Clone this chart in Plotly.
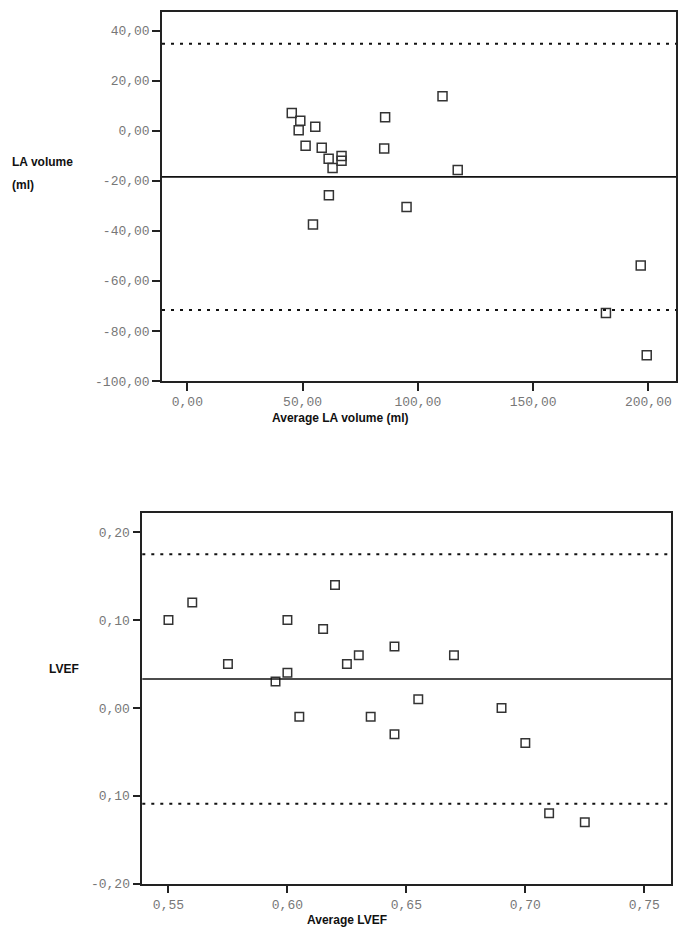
import plotly.graph_objects as go

# ---------------- data: LA volume (top panel) ----------------
la_avg = [45.3, 49.0, 48.3, 55.5, 51.3, 58.3, 61.3, 66.9, 66.9, 63.0,
          85.8, 85.4, 110.7, 117.3, 61.4, 95.1, 54.5, 196.7, 181.6, 199.3]
la_diff = [7.1, 4.0, 0.2, 1.6, -6.0, -6.8, -11.2, -10.1, -12.0, -14.9,
           5.4, -7.1, 13.8, -15.7, -25.8, -30.5, -37.4, -53.8, -72.8, -89.7]
la_lines = [34.8, -18.4, -71.6]          # upper LoA, mean, lower LoA
la_ytick_vals = [40, 20, 0, -20, -40, -60, -80, -100]
la_ytick_text = ["40,00", "20,00", "0,00", "-20,00", "-40,00", "-60,00", "-80,00", "-100,00"]
la_xtick_vals = [0, 50, 100, 150, 200]
la_xtick_text = ["0,00", "50,00", "100,00", "150,00", "200,00"]

# ---------------- data: LVEF (bottom panel) ----------------
ef_avg = [0.550, 0.560, 0.575, 0.600, 0.595, 0.600, 0.605, 0.615, 0.620, 0.625,
          0.630, 0.635, 0.645, 0.645, 0.655, 0.670, 0.690, 0.700, 0.710, 0.725]
ef_diff = [0.10, 0.12, 0.05, 0.10, 0.03, 0.04, -0.01, 0.09, 0.14, 0.05,
           0.06, -0.01, 0.07, -0.03, 0.01, 0.06, 0.00, -0.04, -0.12, -0.13]
ef_lines = [0.175, 0.033, -0.109]
ef_ytick_vals = [0.2, 0.1, 0.0, -0.1, -0.2]
ef_ytick_text = ["0,20", "0,10", "0,00", "0,10", "-0,20"]
ef_xtick_vals = [0.55, 0.60, 0.65, 0.70, 0.75]
ef_xtick_text = ["0,55", "0,60", "0,65", "0,70", "0,75"]

W, H = 685, 932
SY = 0.9904  # vertical compensation observed in the rendered page


def px(p):
    return p / W


def py(p):
    return 1 - (p / SY) / H


TICKFONT = dict(family="Liberation Mono, Courier New, monospace", size=13, color="#777777")
TITLEFONT = dict(family="Liberation Sans, Arial, sans-serif", size=12, color="#111111")
LINEC = "#222222"

fig = go.Figure()
fig.add_trace(go.Scatter(x=la_avg, y=la_diff, mode="markers", xaxis="x", yaxis="y",
                         marker=dict(symbol="square-open", size=9,
                                     color="#333333", line=dict(width=1.5, color="#333333")),
                         showlegend=False, hoverinfo="x+y"))
fig.add_trace(go.Scatter(x=ef_avg, y=ef_diff, mode="markers", xaxis="x2", yaxis="y2",
                         marker=dict(symbol="square-open", size=8.5,
                                     color="#333333", line=dict(width=1.5, color="#333333")),
                         showlegend=False, hoverinfo="x+y"))


def axis_common():
    return dict(showgrid=False, zeroline=False, showline=True, linecolor=LINEC, linewidth=1.5,
                mirror=True, ticks="outside", ticklen=8, tickwidth=2, tickcolor=LINEC,
                tickfont=TICKFONT, tickmode="array")


fig.update_layout(
    width=W, height=H, margin=dict(l=0, r=0, t=0, b=0),
    paper_bgcolor="white", plot_bgcolor="white",
    xaxis=dict(**axis_common(), domain=[px(162), px(676)], range=[-11, 212],
               tickvals=la_xtick_vals, ticktext=la_xtick_text, anchor="y"),
    yaxis=dict(**axis_common(), domain=[py(381), py(12)], range=[-100, 47.5],
               tickvals=la_ytick_vals, ticktext=la_ytick_text, anchor="x"),
    xaxis2=dict(**axis_common(), domain=[px(142.3), px(671.4)], range=[0.539, 0.7614],
                tickvals=ef_xtick_vals, ticktext=ef_xtick_text, anchor="y2"),
    yaxis2=dict(**axis_common(), domain=[py(883.7), py(513.3)], range=[-0.2, 0.2216],
                tickvals=ef_ytick_vals, ticktext=ef_ytick_text, anchor="x2"),
)

shapes = []
for xr, yr, vals in [("x", "y", la_lines), ("x2", "y2", ef_lines)]:
    for i, v in enumerate(vals):
        dash = "solid" if i == 1 else "3px,6px"
        shapes.append(dict(type="line", xref=f"{xr} domain", yref=yr, x0=0, x1=1, y0=v, y1=v,
                           line=dict(color="#111111", width=1.6 if i == 1 else 2, dash=dash)))
fig.update_layout(shapes=shapes)

annotations = []
for text, x, y in [("<b>LA volume</b>", 10, 162), ("<b>(ml)</b>", 10, 185), ("<b>LVEF</b>", 47, 669)]:
    annotations.append(dict(text=text, x=px(x), y=py(y), xref="paper", yref="paper",
                            xanchor="left", yanchor="middle", showarrow=False, font=TITLEFONT))
for text, x, y in [("<b>Average LA volume (ml)</b>", 340, 418), ("<b>Average LVEF</b>", 347, 920)]:
    annotations.append(dict(text=text, x=px(x), y=py(y), xref="paper", yref="paper",
                            xanchor="center", yanchor="middle", showarrow=False, font=TITLEFONT))
fig.update_layout(annotations=annotations)

post = "document.body.style.margin='0px';"
fig.write_html("out.html", config={"displayModeBar": False}, post_script=post)
